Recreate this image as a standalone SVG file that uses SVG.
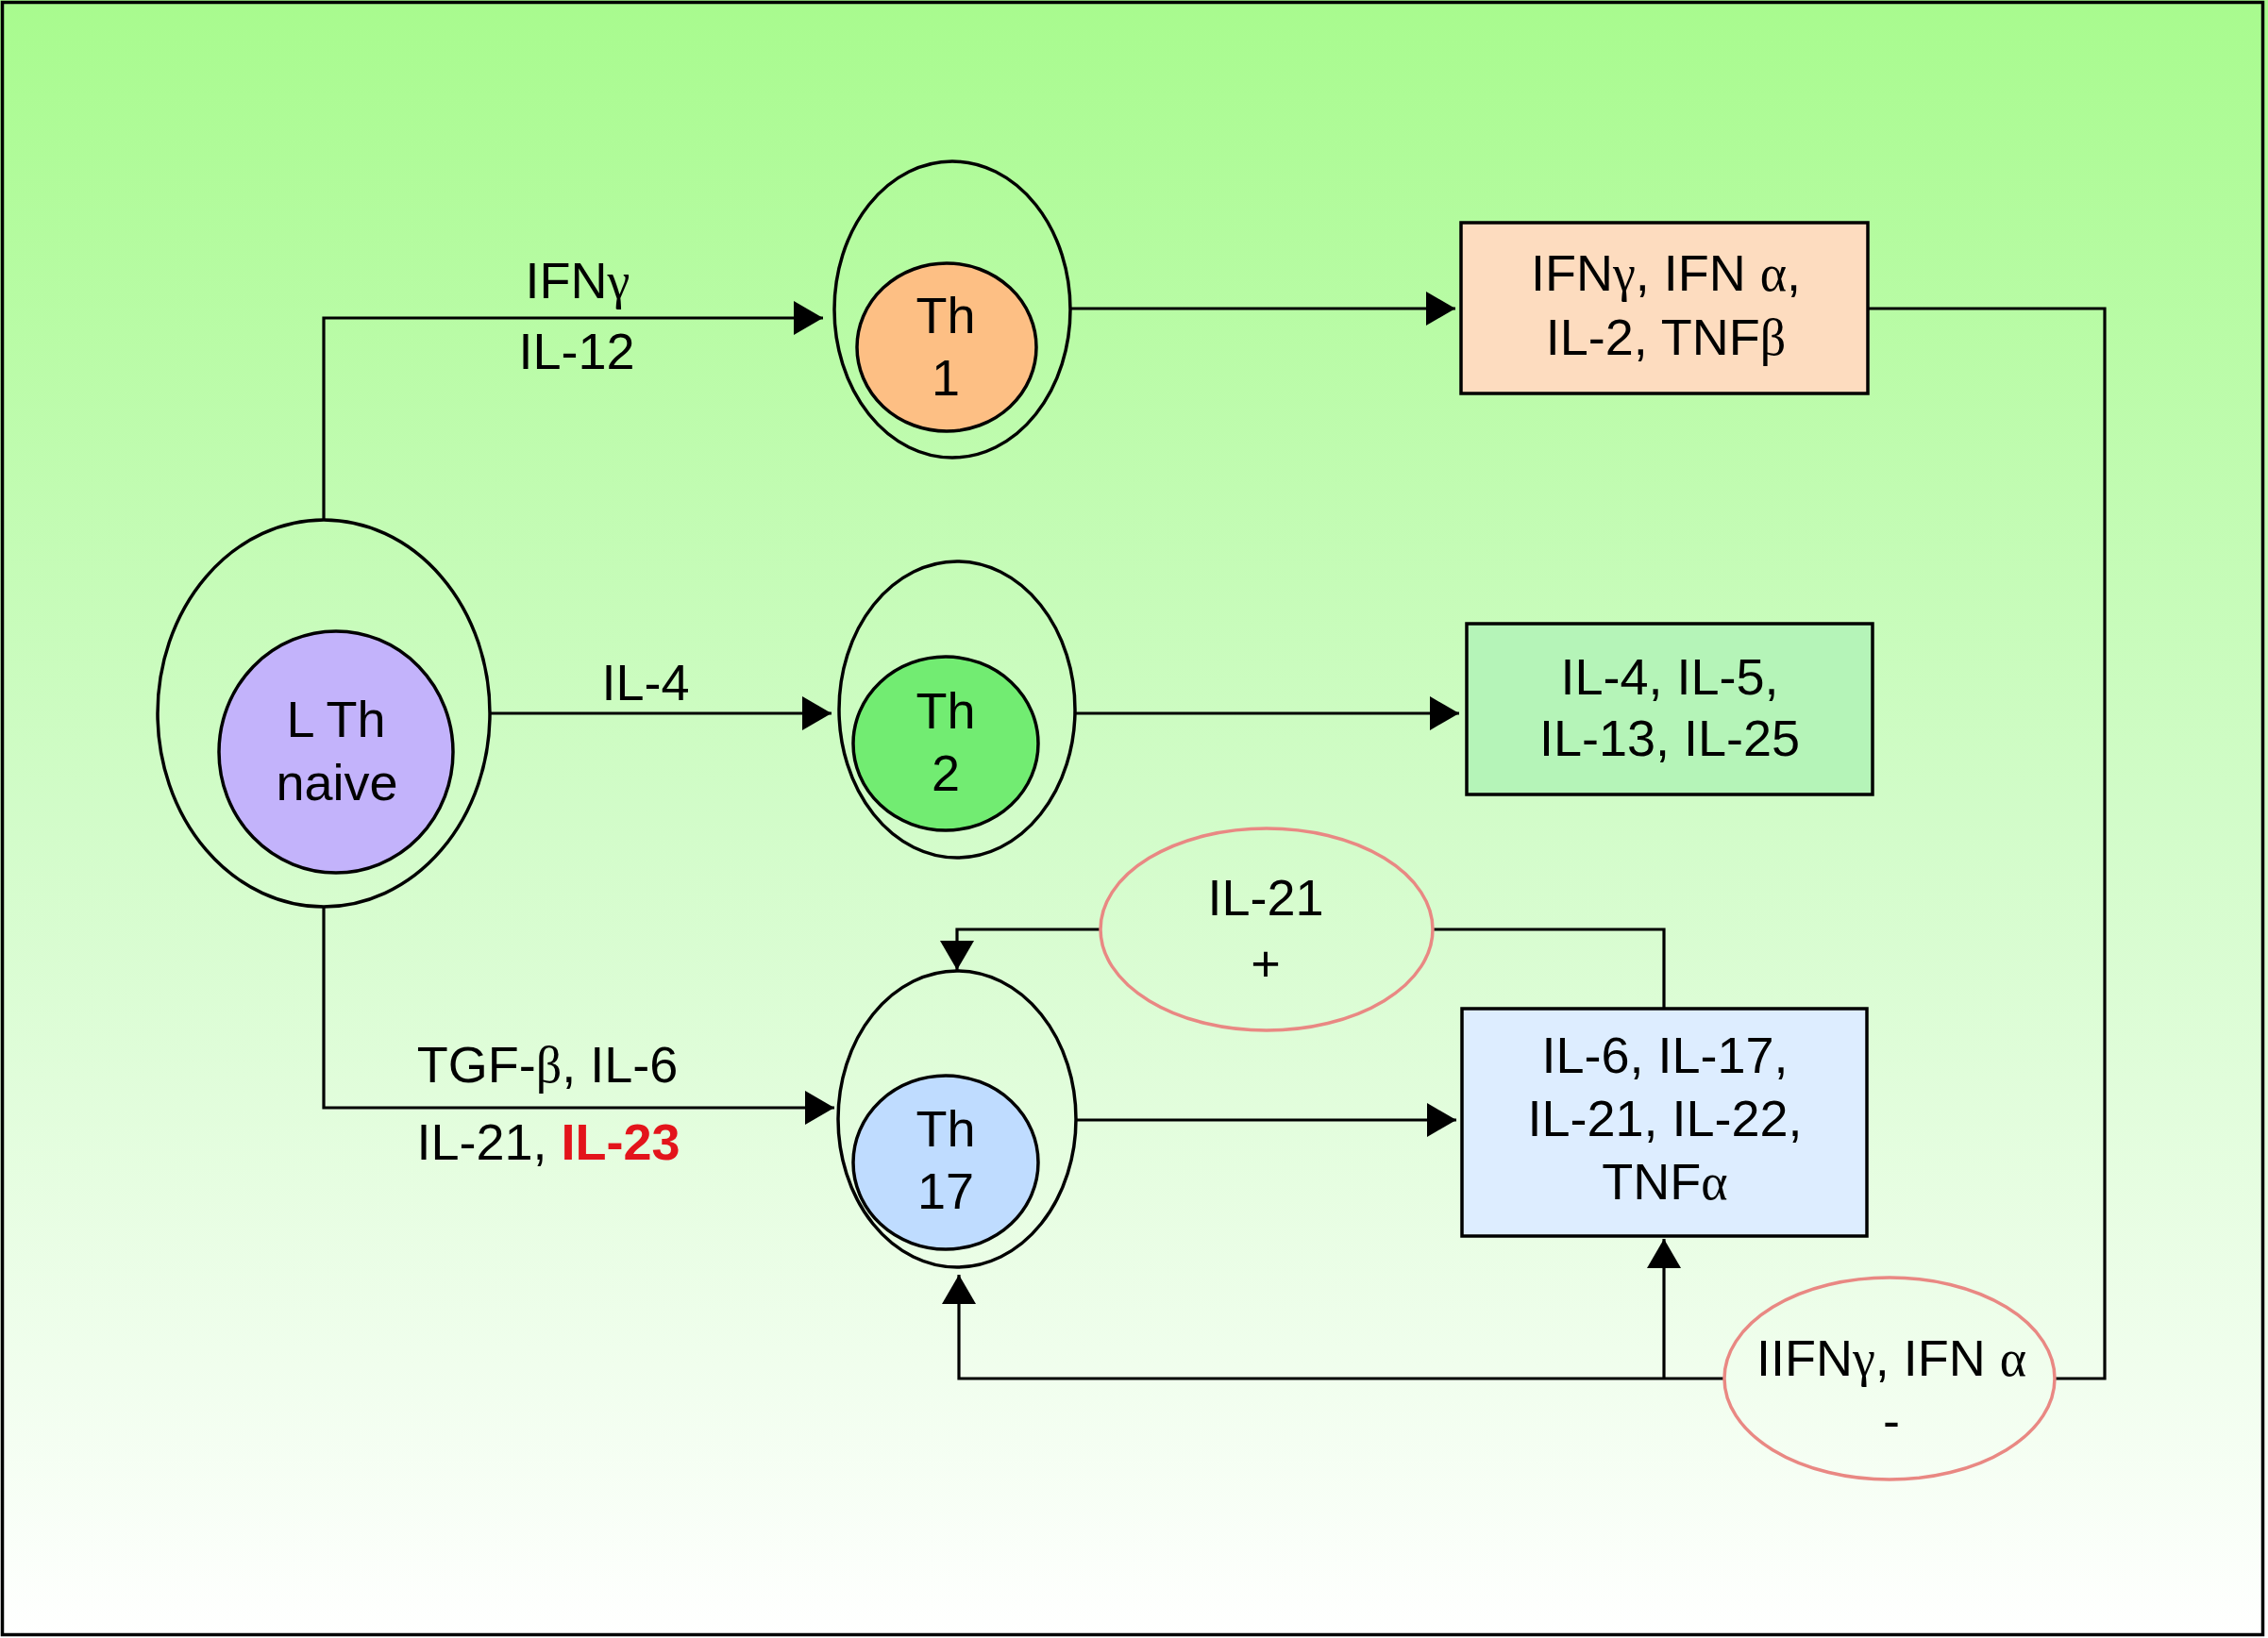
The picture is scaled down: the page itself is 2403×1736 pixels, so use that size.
<svg xmlns="http://www.w3.org/2000/svg" width="2403" height="1736" viewBox="0 0 2403 1736">
<defs>
<linearGradient id="bg" x1="0" y1="0" x2="0" y2="1">
<stop offset="0" stop-color="#a8fb8e"/>
<stop offset="0.5" stop-color="#d2fcc9"/>
<stop offset="1" stop-color="#ffffff"/>
</linearGradient>
<marker id="ah" markerUnits="userSpaceOnUse" markerWidth="32" markerHeight="38" viewBox="0 0 32 38" refX="31" refY="19" orient="auto">
<path d="M0,1 L31,19 L0,37 Z" fill="#000"/>
</marker>
<style>
text{font-family:"Liberation Sans",Arial,sans-serif;font-size:54px;fill:#000;text-anchor:middle}
.g{font-family:"Liberation Serif","Times New Roman",serif}
.red{fill:#e3141b;font-weight:bold}
.cell{fill:none;stroke:#000;stroke-width:3.5}
.core{stroke:#000;stroke-width:3.5}
.box{stroke:#000;stroke-width:3.5}
.sig{fill:none;stroke:#e98883;stroke-width:3.5}
.c path{fill:none;stroke:#000;stroke-width:3.2}
.c .a{marker-end:url(#ah)}
</style>
</defs>
<rect x="0" y="0" width="2403" height="1736" fill="url(#bg)"/>
<rect x="2.5" y="2.5" width="2395" height="1730" fill="none" stroke="#000" stroke-width="3.5"/>

<g id="connectors" class="c">
<path class="a" d="M343,551 V337 H872"/>
<path class="a" d="M519,756 H881"/>
<path class="a" d="M343,961 V1174 H884"/>
<path class="a" d="M1134,327 H1542"/>
<path class="a" d="M1139,756 H1546"/>
<path class="a" d="M1140,1187 H1543"/>
<path d="M1979,327 H2230 V1461 H2177"/>
<path class="a" d="M1827,1461 H1016 V1351"/>
<path class="a" d="M1763,1461 V1313"/>
<path d="M1763,1068 V985 H1519"/>
<path class="a" d="M1166,985 H1014 V1028"/>
</g>

<g id="lth-naive">
<ellipse class="cell" cx="343" cy="756" rx="176" ry="205"/>
<ellipse class="core" cx="356" cy="797" rx="124" ry="128" fill="#c3b3fb"/>
<text x="356" y="781">L Th</text>
<text x="357" y="848">naive</text>
</g>

<g id="th1">
<ellipse class="cell" cx="1009" cy="328" rx="125" ry="157"/>
<ellipse class="core" cx="1003" cy="368" rx="95" ry="89" fill="#fdbf84"/>
<text x="1002" y="353">Th</text>
<text x="1002" y="419">1</text>
</g>

<g id="th2">
<ellipse class="cell" cx="1014" cy="752" rx="125" ry="157"/>
<ellipse class="core" cx="1002" cy="788" rx="98" ry="92" fill="#72ec72"/>
<text x="1002" y="772">Th</text>
<text x="1002" y="838">2</text>
</g>

<g id="th17">
<ellipse class="cell" cx="1014" cy="1186" rx="126" ry="157"/>
<ellipse class="core" cx="1002" cy="1232" rx="98" ry="92" fill="#bfdcff"/>
<text x="1002" y="1215">Th</text>
<text x="1002" y="1281">17</text>
</g>

<g id="label-th1">
<text x="612" y="316">IFN<tspan class="g">γ</tspan></text>
<text x="611" y="391">IL-12</text>
</g>
<g id="label-th2">
<text x="684" y="742">IL-4</text>
</g>
<g id="label-th17">
<text x="580" y="1147">TGF-<tspan class="g">β</tspan>, IL-6</text>
<text x="581" y="1229">IL-21, <tspan class="red">IL-23</tspan></text>
</g>

<g id="box-th1">
<rect class="box" x="1548" y="236" width="431" height="181" fill="#fddcbf"/>
<text x="1765" y="308">IFN<tspan class="g">γ</tspan>, IFN <tspan class="g">α</tspan>,</text>
<text x="1765" y="376">IL-2, TNF<tspan class="g">β</tspan></text>
</g>

<g id="box-th2">
<rect class="box" x="1554" y="661" width="430" height="181" fill="#b5f4b8"/>
<text x="1769" y="736">IL-4, IL-5,</text>
<text x="1769" y="801">IL-13, IL-25</text>
</g>

<g id="box-th17">
<rect class="box" x="1549" y="1069" width="429" height="241" fill="#ddedff"/>
<text x="1764" y="1137">IL-6, IL-17,</text>
<text x="1764" y="1204">IL-21, IL-22,</text>
<text x="1764" y="1271">TNF<tspan class="g">α</tspan></text>
</g>

<g id="il21-plus">
<ellipse class="sig" cx="1342" cy="985" rx="176" ry="107"/>
<text x="1341" y="970">IL-21</text>
<text x="1341" y="1040">+</text>
</g>

<g id="ifn-minus">
<ellipse class="sig" cx="2002" cy="1461" rx="175" ry="107"/>
<text x="2004" y="1458">IIFN<tspan class="g">γ</tspan>, IFN <tspan class="g">α</tspan></text>
<text x="2004" y="1524">-</text>
</g>
</svg>
